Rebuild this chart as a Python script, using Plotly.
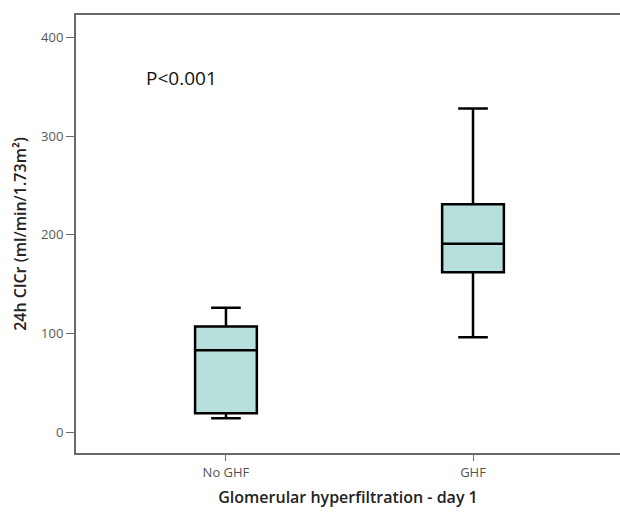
import plotly.graph_objects as go

categories = ["No GHF", "GHF"]
lower_whisker = [14, 96]
q1_vals = [19, 162]
median_vals = [83, 191]
q3_vals = [107, 231]
upper_whisker = [126, 328]
y_ticks = [0, 100, 200, 300, 400]

fig = go.Figure()
for i, c in enumerate(categories):
    fig.add_trace(go.Box(
        x=[i], q1=[q1_vals[i]], median=[median_vals[i]], q3=[q3_vals[i]],
        lowerfence=[lower_whisker[i]], upperfence=[upper_whisker[i]],
        name=c, boxpoints=False, width=0.25, whiskerwidth=0.48,
        fillcolor="#b7dfdc", line=dict(color="black", width=2.5),
        showlegend=False, hoverinfo="skip",
    ))

fig.add_annotation(x=-0.33, y=359, xref="x", yref="y", text="P<0.001",
                   showarrow=False, xanchor="left", yanchor="middle",
                   font=dict(size=19, color="#111", family="Open Sans"))

fig.update_layout(
    width=620, height=512,
    margin=dict(l=76, r=0, t=15, b=59),
    paper_bgcolor="white", plot_bgcolor="white",
    font=dict(family="Open Sans", color="#555"),
    xaxis=dict(
        range=[-0.607, 1.595], tickvals=[0, 1], ticktext=categories,
        showgrid=False, zeroline=False, showline=True, mirror=True,
        linecolor="#6a6a6a", linewidth=2, ticks="outside", ticklen=6,
        tickcolor="#6a6a6a", tickwidth=1, tickfont=dict(size=13, color="#555"),
        title=dict(text="Glomerular hyperfiltration - day 1", standoff=12,
                   font=dict(size=16, color="#222", family="Open Sans", weight=600)),
    ),
    yaxis=dict(
        range=[-21.3, 422.9], tickvals=y_ticks,
        showgrid=False, zeroline=False, showline=True, mirror=False,
        linecolor="#6a6a6a", linewidth=2, ticks="outside", ticklen=8,
        tickcolor="#6a6a6a", tickwidth=1, tickfont=dict(size=13, color="#555"),
        title=dict(text="24h ClCr (ml/min/1.73m²)", standoff=10,
                   font=dict(size=16, color="#222", family="Open Sans", weight=600)),
    ),
)

fig.write_html("out.html", config={"displayModeBar": False},
               post_script="document.body.style.margin='0';document.body.style.overflow='hidden';")
